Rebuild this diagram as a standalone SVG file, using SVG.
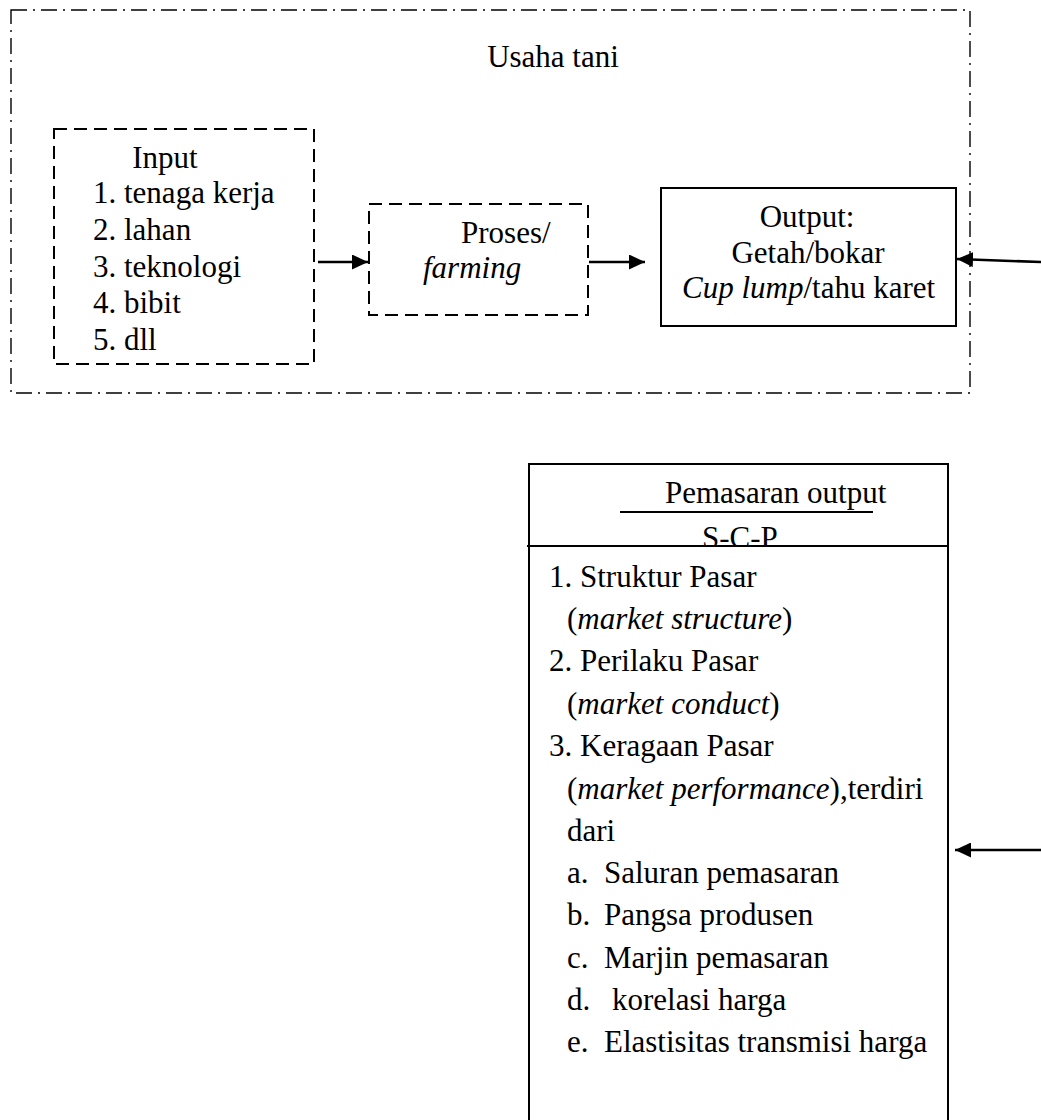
<svg xmlns="http://www.w3.org/2000/svg" width="1041" height="1120" viewBox="0 0 1041 1120">
<style>
text{font-family:"Liberation Serif","Times New Roman",serif;font-size:31px;fill:#000}
.it{font-style:italic}
.dd{fill:none;stroke:#000;stroke-width:1.4;stroke-dasharray:16 6 2 6}
.ds{fill:none;stroke:#000;stroke-width:2;stroke-dasharray:13 7}
.sb{fill:none;stroke:#000;stroke-width:2}
.ln{stroke:#000;stroke-width:2;fill:none}
.ar{stroke:#000;stroke-width:2.6;fill:none}
</style>
<defs>
<marker id="ah" markerWidth="16" markerHeight="15" refX="16" refY="7.5" orient="auto" markerUnits="userSpaceOnUse">
<path d="M0,0 L16,7.5 L0,15 Z" fill="#000"/>
</marker>
<clipPath id="scp"><rect x="520" y="460" width="440" height="86"/></clipPath>
</defs>
<rect width="1041" height="1120" fill="#fff"/>
<g id="usaha-tani">
<rect class="dd" x="11" y="10" width="959" height="383"/>
<text x="553" y="67" text-anchor="middle">Usaha tani</text>
</g>
<g id="input">
<rect class="ds" x="54" y="129" width="260" height="235"/>
<text x="165" y="168" text-anchor="middle">Input</text>
<text x="93" y="203">1. tenaga kerja</text>
<text x="93" y="240">2. lahan</text>
<text x="93" y="277">3. teknologi</text>
<text x="93" y="313">4. bibit</text>
<text x="93" y="350">5. dll</text>
</g>
<g id="proses">
<rect class="ds" x="369" y="204" width="219" height="111"/>
<text x="461" y="243">Proses/</text>
<text x="423" y="278" class="it">farming</text>
</g>
<g id="output">
<rect class="sb" x="661" y="188" width="295" height="138"/>
<text x="807" y="227" text-anchor="middle">Output:</text>
<text x="808" y="263" text-anchor="middle">Getah/bokar</text>
<text x="682" y="298"><tspan class="it">Cup lump</tspan>/tahu karet</text>
</g>
<g id="pemasaran">
<path class="ln" d="M529,1120 L529,464 L948,464 L948,1120"/>
<line class="ln" x1="527" y1="546" x2="948" y2="546"/>
<line class="ln" x1="620" y1="512" x2="873" y2="512"/>
<text x="665" y="503">Pemasaran output</text>
<text x="702" y="548" clip-path="url(#scp)">S-C-P</text>
<text x="549" y="587">1. Struktur Pasar</text>
<text x="567" y="629">(<tspan class="it">market structure</tspan>)</text>
<text x="549" y="671">2. Perilaku Pasar</text>
<text x="567" y="714">(<tspan class="it">market conduct</tspan>)</text>
<text x="549" y="756">3. Keragaan Pasar</text>
<text x="567" y="799">(<tspan class="it">market performance</tspan>),terdiri</text>
<text x="567" y="841">dari</text>
<text x="567" y="883">a.</text><text x="604" y="883">Saluran pemasaran</text>
<text x="567" y="925">b.</text><text x="604" y="925">Pangsa produsen</text>
<text x="567" y="968">c.</text><text x="604" y="968">Marjin pemasaran</text>
<text x="567" y="1010">d.</text><text x="612" y="1010">korelasi harga</text>
<text x="567" y="1052">e.</text><text x="604" y="1052">Elastisitas transmisi harga</text>
</g>
<g id="connectors">
<line class="ar" x1="318" y1="262" x2="368" y2="262" marker-end="url(#ah)"/>
<line class="ar" x1="589" y1="262" x2="645" y2="262" marker-end="url(#ah)"/>
<line class="ar" x1="1041" y1="262" x2="957" y2="259" marker-end="url(#ah)"/>
<line class="ar" x1="1041" y1="850" x2="955" y2="850" marker-end="url(#ah)"/>
</g>
</svg>
